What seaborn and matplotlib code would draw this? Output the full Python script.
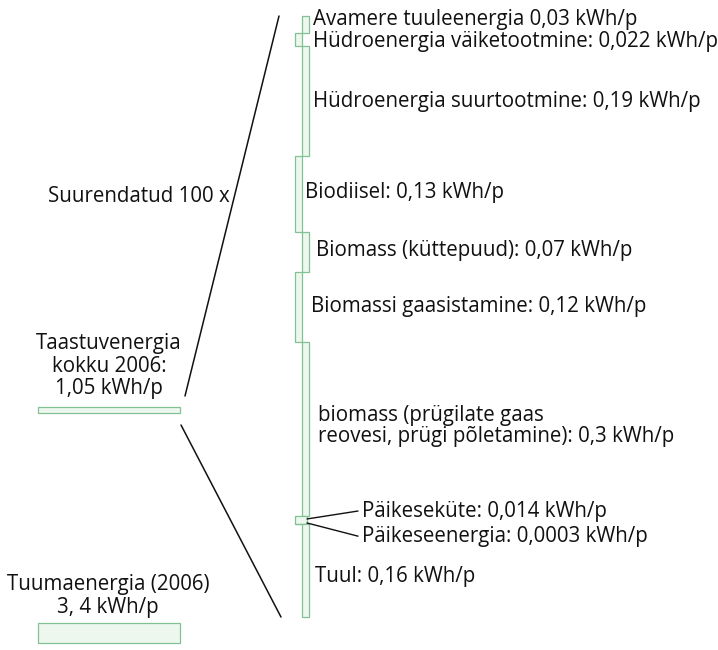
import numpy as np
import seaborn as sns
import matplotlib.pyplot as plt

# Taastuvenergia komponendid (kWh/p päevas), ülalt alla
allikad = ['Avamere tuuleenergia 0,03 kWh/p',
           'Hüdroenergia väiketootmine: 0,022 kWh/p',
           'Hüdroenergia suurtootmine: 0,19 kWh/p',
           'Biodiisel: 0,13 kWh/p',
           'Biomass (küttepuud): 0,07 kWh/p',
           'Biomassi gaasistamine: 0,12 kWh/p',
           'biomass (prügilate gaas\nreovesi, prügi põletamine): 0,3 kWh/p',
           'Päikeseküte: 0,014 kWh/p',
           'Päikeseenergia: 0,0003 kWh/p',
           'Tuul: 0,16 kWh/p']
vaartused = [0.03, 0.022, 0.19, 0.13, 0.07, 0.12, 0.3, 0.014, 0.0003, 0.16]

kokku_silt = 'Taastuvenergia\nkokku 2006:\n1,05 kWh/p'
kokku = 1.05
tuuma_silt = 'Tuumaenergia (2006)\n3, 4 kWh/p'
tuuma = 3.4

sns.set_theme(style='white')
plt.rcParams['font.family'] = ['Open Sans', 'DejaVu Sans']

taida = '#eef7ee'
serv = '#82c095'
fs = 14.8

skaala = 580.0          # px / kWh suurendatud tulbas
vasak_skaala = skaala / 100

fig = plt.figure(figsize=(7.18, 6.50), dpi=100)
ax = fig.add_axes([0, 0, 1, 1])
ax.set_xlim(0, 718)
ax.set_ylim(650, 0)
ax.axis('off')

# suurendatud tulp: lõigud vaheldumisi vasakul/paremal
korgused = np.array(vaartused) * skaala
algused = 16 + np.concatenate([[0], np.cumsum(korgused)[:-1]])
x_vasak = [302, 295, 302, 295, 302, 295, 302, 295, 295, 302]
laiused = [6.5, 7, 6.5, 7, 6.5, 7, 6.5, 12, 12, 6.5]
ax.bar(x_vasak, korgused, width=laiused, bottom=algused, align='edge',
       color=taida, edgecolor=serv, linewidth=0.9)

# sildid
keskel = algused + korgused / 2
silt_x = [313, 313, 313, 305, 316, 311, 318, 362, 362, 315]
nihe = [-5, 2, 0, -2, -2, -1, -3, -9, 12, 6]
for s, x, y, dy in zip(allikad, silt_x, keskel, nihe):
    ax.text(x, y + dy, s, fontsize=fs, va='center', ha='left',
            color='#111111', linespacing=1.05)

# päikese viitejooned
ax.plot([307, 358], [algused[7] + 3, keskel[7] - 9], color='#111111', lw=1)
ax.plot([307, 358], [algused[7] + 7, keskel[8] + 12], color='#111111', lw=1)

# vasakpoolsed tulbad
ax.bar([38, 38], [kokku * vasak_skaala, tuuma * vasak_skaala], width=142,
       bottom=[407, 623], align='edge', color=taida, edgecolor=serv,
       linewidth=0.9)
ax.text(109, 366, kokku_silt, fontsize=fs, ha='center', va='center',
        color='#111111', linespacing=1.1)
ax.text(108, 596, tuuma_silt, fontsize=fs, ha='center', va='center',
        color='#111111', linespacing=1.1)
ax.text(48, 196, 'Suurendatud 100 x', fontsize=fs, ha='left', va='center',
        color='#111111')

# suurenduse jooned
ax.plot([185, 279], [396, algused[0]], color='#111111', lw=1.1)
ax.plot([181, 281], [425, algused[-1] + korgused[-1]], color='#111111', lw=1.1)

fig.savefig('out.png', dpi=100)
